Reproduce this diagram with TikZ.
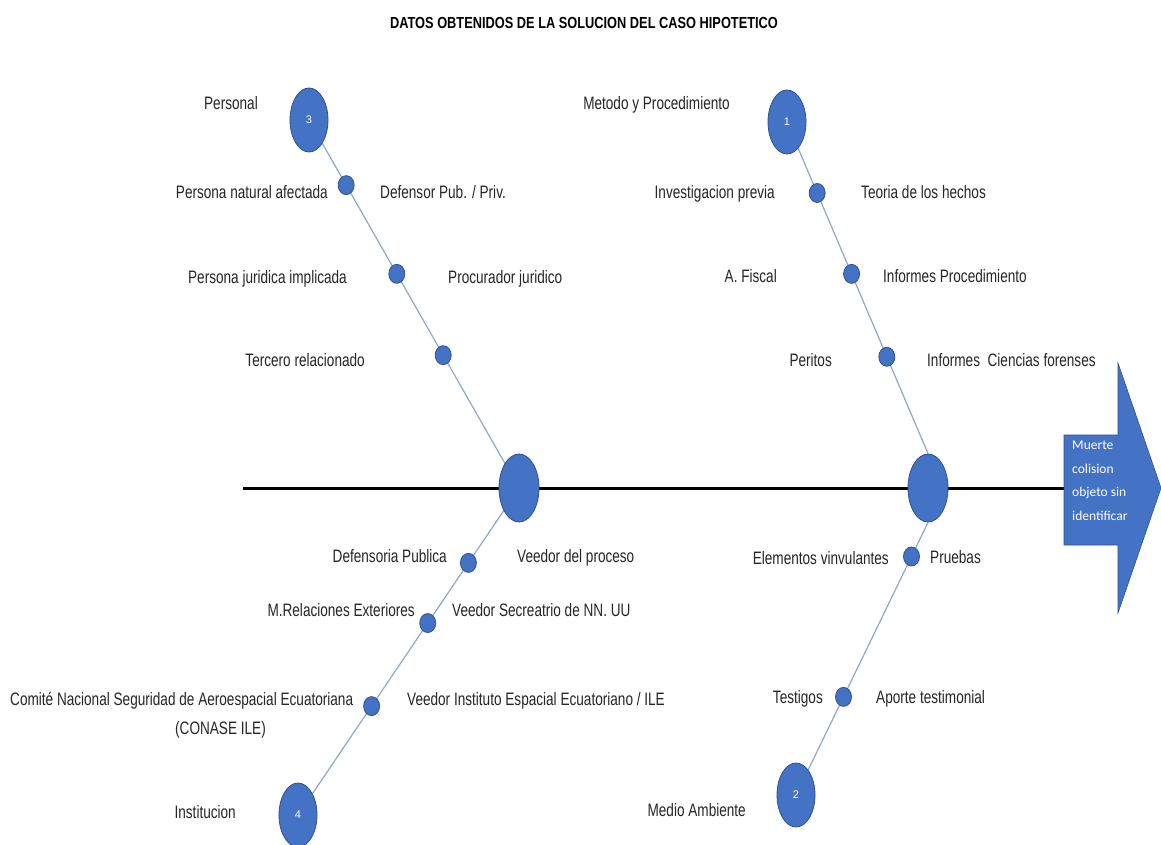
\documentclass[tikz,border=0pt]{standalone}
\usepackage{fontspec}
\setmainfont[FakeStretch=0.755]{Liberation Sans}
\newfontfamily\titlefont[FakeStretch=0.8]{Liberation Sans}
\newfontfamily\numfont{Liberation Sans}
\newfontfamily\carlitofont{Carlito}
\usetikzlibrary{calc,shapes.geometric}
\pgfdeclarelayer{bg}
\pgfsetlayers{bg,main}
\definecolor{fillblue}{HTML}{4472C4}
\definecolor{edgeblue}{HTML}{2F528F}
\definecolor{branchcol}{HTML}{8FA8C8}
\definecolor{txtcol}{HTML}{262626}
\begin{document}
\begin{tikzpicture}[x=1pt,y=-1pt,
  hub/.style={ellipse, draw=edgeblue, fill=fillblue, line width=0.8pt, minimum width=40pt, minimum height=68pt, inner sep=0pt},
  catc/.style={ellipse, draw=edgeblue, fill=fillblue, line width=0.8pt, minimum width=38pt, minimum height=64pt, inner sep=0pt, text=white, font=\numfont\fontsize{11}{13}\selectfont},
  dotc/.style={ellipse, draw=edgeblue, fill=fillblue, line width=0.8pt, minimum width=16pt, minimum height=19pt, inner sep=0pt},
  lbl/.style={font=\fontsize{18}{20}\selectfont, text=txtcol, inner sep=0pt},
  lL/.style={lbl, anchor=base east},
  lR/.style={lbl, anchor=base west},
  branchline/.style={draw=branchcol, line width=1.2pt},
  axisline/.style={draw=black, line width=3pt}
]
\useasboundingbox (0,0) rectangle (1161,844);

% title
\node[font=\titlefont\bfseries\fontsize{16}{19}\selectfont, anchor=base, inner sep=0pt] (title) at (584,28) {DATOS OBTENIDOS DE LA SOLUCION DEL CASO HIPOTETICO};

% hubs and categories
\node[hub] (BL) at (519,488) {};
\node[hub] (BR) at (928,488) {};
\node[catc] (C3) at (309,120) {3};
\node[catc] (C1) at (787,122) {1};
\node[catc] (C4) at (298,815) {4};
\node[catc] (C2) at (796,795) {2};

% result arrow
\fill[fillblue, draw=edgeblue, line width=0.6pt] (1064,435) -- (1118,435) -- (1118,363) -- (1161,488) -- (1118,613) -- (1118,545) -- (1064,545) -- cycle;
\coordinate (shaft) at (1064,488);
\coordinate (axL) at (243,488);
\node[anchor=north west, inner sep=0pt, align=left, text=white, font=\carlitofont\fontsize{13.5}{23.5}\selectfont] (res) at (1072,441) {Muerte\\colision\\objeto sin\\identificar};

% lines
\begin{pgfonlayer}{bg}
\fill[white] (0,0) rectangle (1161,844);
\draw[axisline] (axL) -- (shaft);
\draw[branchline] (C3.center) -- (BL.center);
\draw[branchline] (C1.center) -- (BR.north);
\draw[branchline] (BL.center) -- (C4.center);
\draw[branchline] (BR.south) -- (C2.center);
\end{pgfonlayer}

% dots on branch 3
\node[dotc] (d31) at ($(C3.center)!0.177!(BL.center)$) {};
\node[dotc] (d32) at ($(C3.center)!0.418!(BL.center)$) {};
\node[dotc] (d33) at ($(C3.center)!0.639!(BL.center)$) {};
% dots on branch 1
\node[dotc] (d11) at ($(C1.center)!0.214!(BR.north)$) {};
\node[dotc] (d12) at ($(C1.center)!0.458!(BR.north)$) {};
\node[dotc] (d13) at ($(C1.center)!0.708!(BR.north)$) {};
% dots on branch 4
\node[dotc] (d41) at ($(BL.center)!0.229!(C4.center)$) {};
\node[dotc] (d42) at ($(BL.center)!0.413!(C4.center)$) {};
\node[dotc] (d43) at ($(BL.center)!0.667!(C4.center)$) {};
% dots on branch 2
\node[dotc] (d21) at ($(BR.south)!0.125!(C2.center)$) {};
\node[dotc] (d22) at ($(BR.south)!0.640!(C2.center)$) {};

% labels branch 3
\node[lL] (tPersonal) at (258,109) {Personal};
\node[lL] (tPNA) at (328,198) {Persona natural afectada};
\node[lR] (tDef) at (380,198) {Defensor Pub. / Priv.};
\node[lL] (tPJI) at (347,283) {Persona juridica implicada};
\node[lR] (tProc) at (448,283) {Procurador juridico};
\node[lL] (tTer) at (365,366) {Tercero relacionado};

% labels branch 1
\node[lL] (tMet) at (730,109) {Metodo y Procedimiento};
\node[lL] (tInv) at (775,198) {Investigacion previa};
\node[lR] (tTeo) at (861,198) {Teoria de los hechos};
\node[lL] (tFis) at (777,282) {A. Fiscal};
\node[lR] (tInfP) at (883,282) {Informes Procedimiento};
\node[lL] (tPer) at (832,366) {Peritos};
\node[lR] (tInfC) at (927,366) {Informes\ \ Ciencias forenses};

% labels branch 4
\node[lL] (tDefP) at (447,562) {Defensoria Publica};
\node[lR] (tVeeP) at (517,562) {Veedor del proceso};
\node[lL] (tMRE) at (415,616) {M.Relaciones Exteriores};
\node[lR] (tVeeS) at (452,616) {Veedor Secreatrio de NN. UU};
\node[lbl, anchor=north west, align=left, font=\fontsize{18}{29}\selectfont] (tCom) at (10,692) {Comité Nacional Seguridad de Aeroespacial Ecuatoriana\\\hspace*{165pt}(CONASE ILE)};
\node[lR] (tVeeI) at (407,705) {Veedor Instituto Espacial Ecuatoriano / ILE};
\node[lL] (tInst) at (236,818) {Institucion};

% labels branch 2
\node[lL] (tEle) at (889,564) {Elementos vinvulantes};
\node[lR] (tPru) at (930,563) {Pruebas};
\node[lL] (tTes) at (823,703) {Testigos};
\node[lR] (tApo) at (876,703) {Aporte testimonial};
\node[lL] (tMed) at (746,816) {Medio Ambiente};
\end{tikzpicture}
\end{document}
